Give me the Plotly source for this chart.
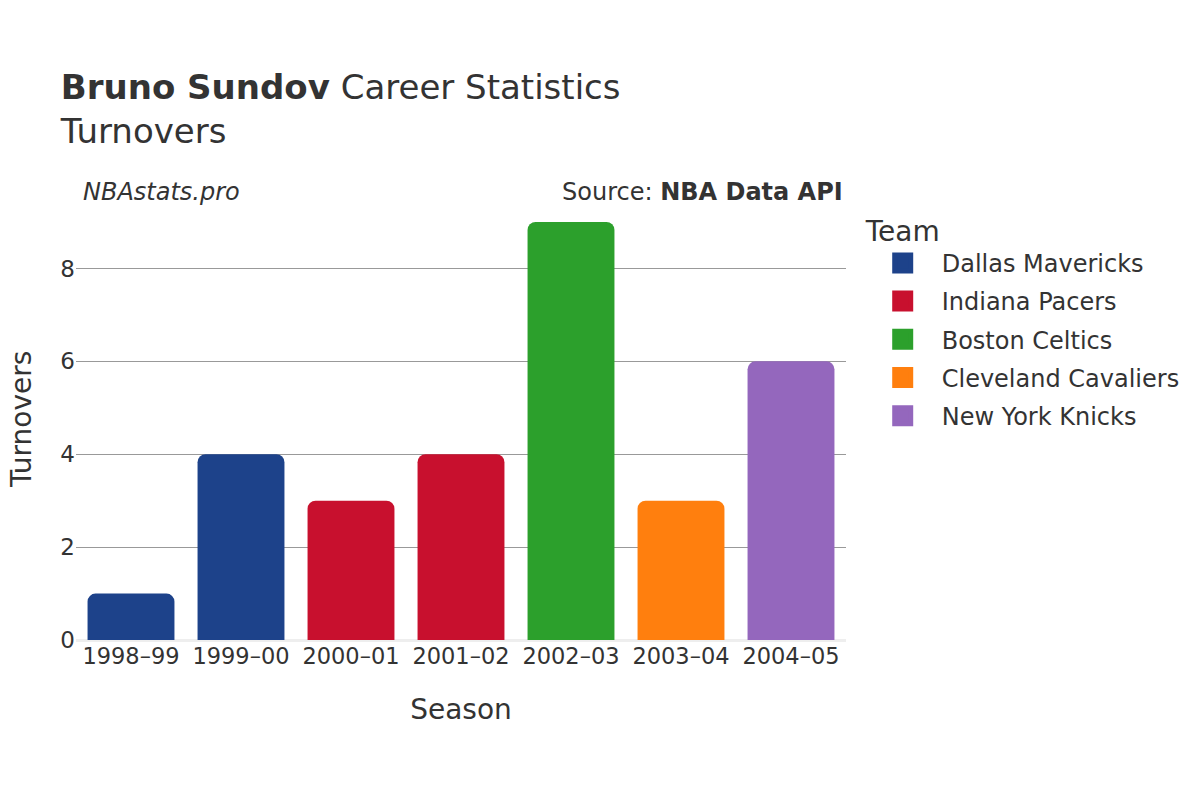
import plotly.graph_objects as go

seasons = ["1998–99", "1999–00", "2000–01", "2001–02", "2002–03", "2003–04", "2004–05"]
teams = ["Dallas Mavericks", "Dallas Mavericks", "Indiana Pacers", "Indiana Pacers",
         "Boston Celtics", "Cleveland Cavaliers", "New York Knicks"]
turnovers = [1, 4, 3, 4, 9, 3, 6]

team_order = ["Dallas Mavericks", "Indiana Pacers", "Boston Celtics", "Cleveland Cavaliers", "New York Knicks"]
team_colors = {
    "Dallas Mavericks": "#1D428A",
    "Indiana Pacers": "#C8102E",
    "Boston Celtics": "#2CA02C",
    "Cleveland Cavaliers": "#FF7F0E",
    "New York Knicks": "#9467BD",
}

fig = go.Figure()
for team in team_order:
    xs = [s for s, t in zip(seasons, teams) if t == team]
    ys = [v for v, t in zip(turnovers, teams) if t == team]
    fig.add_trace(go.Bar(
        x=xs, y=ys, name=team, legendgroup=team, showlegend=False,
        marker=dict(color=team_colors[team], line=dict(width=0)),
    ))
    # bigger legend swatches
    fig.add_trace(go.Scatter(
        x=[None], y=[None], mode="markers", name=team, legendgroup=team,
        marker=dict(symbol="square", size=16, color=team_colors[team],
                    line=dict(width=5, color=team_colors[team])),
    ))

fig.update_layout(
    width=1200, height=800,
    font=dict(family="DejaVu Sans", size=22, color="#333"),
    plot_bgcolor="white", paper_bgcolor="white",
    barmode="overlay", bargap=0.21, barcornerradius=8,
    margin=dict(l=68, r=362, t=192, b=168),
    title=dict(
        text="<b>Bruno Sundov</b> Career Statistics<br>Turnovers",
        x=0.044, xanchor="left", y=0.886, yanchor="top",
        font=dict(size=34, color="#333"),
    ),
    xaxis=dict(
        title=dict(text="Season", font=dict(size=28), standoff=31),
        categoryorder="array", categoryarray=seasons, automargin=False,
        showgrid=False, ticks="", tickfont=dict(size=22.5),
    ),
    yaxis=dict(
        gridcolor="#999", gridwidth=1, automargin=False,
        zeroline=True, zerolinecolor="#eee", zerolinewidth=3,
        ticks="", dtick=2, tickfont=dict(size=23),
    ),
    legend=dict(
        title=dict(text="Team", font=dict(size=28)),
        x=1.023, xanchor="left", y=0.99, yanchor="top",
        font=dict(size=24), itemwidth=68, tracegroupgap=4,
    ),
    annotations=[
        dict(text="Turnovers", xref="paper", yref="paper",
             x=-0.0714, y=0.5, xanchor="center", yanchor="middle",
             textangle=-90, showarrow=False, font=dict(size=28)),
        dict(text="<i>NBAstats.pro</i>", xref="paper", yref="paper",
             x=0.006, y=1.018, xanchor="left", yanchor="middle",
             showarrow=False, font=dict(size=24)),
        dict(text="Source: <b>NBA Data API</b>", xref="paper", yref="paper",
             x=0.999, y=1.018, xanchor="right", yanchor="middle",
             showarrow=False, font=dict(size=24)),
    ],
)

fig.write_html("out.html")
